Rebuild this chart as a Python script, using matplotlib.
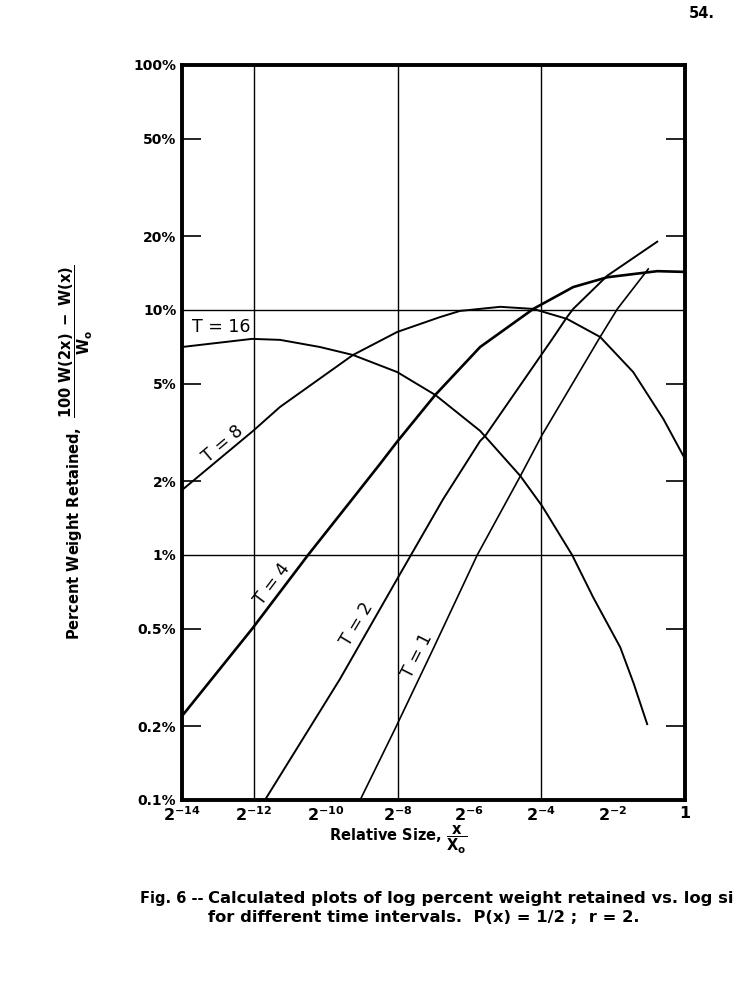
import matplotlib
matplotlib.use('Agg')
import matplotlib.pyplot as plt
import numpy as np

plt.rcParams['mathtext.default'] = 'bf'

# curves: exponent u of x/x0 = 2**u, and percent weight retained
t16_u = [-14.0, -12.05, -11.27, -10.16, -9.24, -8.01, -6.95, -5.70, -4.58, -3.97, -3.14, -2.55, -1.80, -1.43, -1.05]
t16_pct = [7.06, 7.62, 7.55, 7.06, 6.55, 5.58, 4.50, 3.21, 2.10, 1.58, 1.00, 0.67, 0.42, 0.30, 0.204]

t8_u = [-14.0, -12.02, -11.27, -9.24, -8.01, -6.81, -6.26, -5.14, -4.22, -3.28, -2.36, -1.44, -0.60, 0.0]
t8_pct = [1.84, 3.21, 4.02, 6.55, 8.13, 9.36, 9.91, 10.3, 10.1, 9.19, 7.76, 5.58, 3.59, 2.47]

t4_u = [-14.0, -12.05, -10.49, -9.26, -8.48, -8.01, -6.95, -5.70, -4.22, -3.11, -2.16, -0.77, 0.0]
t4_pct = [0.220, 0.499, 1.0, 1.69, 2.36, 2.90, 4.50, 7.06, 10.1, 12.4, 13.6, 14.4, 14.3]

t2_u = [-11.69, -9.60, -8.01, -6.73, -5.70, -5.56, -3.69, -3.28, -3.11, -2.16, -0.77]
t2_pct = [0.10, 0.312, 0.798, 1.69, 2.92, 3.06, 7.62, 9.36, 10.1, 13.8, 19.0]

t1_u = [-9.04, -8.07, -7.01, -5.78, -4.58, -3.97, -2.36, -1.88, -1.02]
t1_pct = [0.10, 0.195, 0.413, 1.0, 2.10, 3.10, 7.76, 10.1, 14.7]

xtick_exp = [-14, -12, -10, -8, -6, -4, -2, 0]
xtick_labels = ['$2^{-14}$', '$2^{-12}$', '$2^{-10}$', '$2^{-8}$', '$2^{-6}$', '$2^{-4}$', '$2^{-2}$', '1']
ytick_vals = [0.1, 1, 10, 100]
ytick_labels = ['0.1%', '1%', '10%', '100%']
yminor_vals = [0.2, 0.5, 2, 5, 20, 50]
yminor_labels = ['0.2%', '0.5%', '2%', '5%', '20%', '50%']

fig = plt.figure(figsize=(7.51, 9.84), dpi=100)
ax = fig.add_axes([0.2423, 0.187, 0.6697, 0.747])

ax.set_xscale('log', base=2)
ax.set_yscale('log')
ax.set_xlim(2.0**-14, 1)
ax.set_ylim(0.1, 100)

# grid lines at 2^-12, 2^-8, 2^-4 and 1%, 10%
for e in [-12, -8, -4]:
    ax.axvline(2.0**e, color='black', lw=1.0)
for v in [1, 10]:
    ax.axhline(v, color='black', lw=1.0)

ax.plot(2.0**np.array(t16_u), t16_pct, color='black', lw=1.4)
ax.plot(2.0**np.array(t8_u), t8_pct, color='black', lw=1.4)
ax.plot(2.0**np.array(t4_u), t4_pct, color='black', lw=1.9)
ax.plot(2.0**np.array(t2_u), t2_pct, color='black', lw=1.4)
ax.plot(2.0**np.array(t1_u), t1_pct, color='black', lw=1.2)

for s in ax.spines.values():
    s.set_linewidth(2.8)

ax.set_xticks([2.0**e for e in xtick_exp])
ax.set_xticklabels(xtick_labels, fontsize=11.5, fontweight='bold')
ax.set_xticks([2.0**-10, 2.0**-6, 2.0**-2], minor=True)
ax.set_xticklabels([], minor=True)
ax.set_yticks(ytick_vals)
ax.set_yticklabels(ytick_labels, fontsize=10, fontweight='bold')
ax.set_yticks(yminor_vals, minor=True)
ax.set_yticklabels(yminor_labels, minor=True, fontsize=10, fontweight='bold')
ax.tick_params(which='major', length=0, pad=4)
ax.tick_params(which='minor', direction='in', length=14, width=1.2,
               top=True, right=True, pad=4)

# curve labels
ax.text(2.0**-13.72, 8.5, 'T = 16', fontsize=12.5, ha='left', va='center')
ax.text(2.0**-12.86, 2.84, 'T = 8', fontsize=12.5, ha='center', va='center', rotation=40)
ax.text(2.0**-11.49, 0.762, 'T = 4', fontsize=12.5, ha='center', va='center', rotation=53)
ax.text(2.0**-9.13, 0.522, 'T = 2', fontsize=12.5, ha='center', va='center', rotation=59)
ax.text(2.0**-7.45, 0.387, 'T = 1', fontsize=12.5, ha='center', va='center', rotation=63)

fig.text(398 / 751, 1 - 840 / 984, r'Relative Size, $\dfrac{x}{X_o}$', fontsize=10.5,
         fontweight='bold', ha='center', va='center')
fig.text(76 / 751, 1 - 452 / 984,
         r'Percent Weight Retained,  $\dfrac{100\ W(2x)\ -\ W(x)}{W_o}$',
         fontsize=10.5, fontweight='bold', rotation=90, ha='center', va='center')

fig.text(702 / 751, 1 - 14 / 984, '54.', fontsize=10.5, fontweight='bold', ha='center', va='center')
fig.text(140 / 751, 1 - 898 / 984, 'Fig. 6 --', fontsize=10.5, fontweight='bold', va='center')
fig.text(208 / 751, 1 - 898 / 984, 'Calculated plots of log percent weight retained vs. log si',
         fontsize=11.8, fontweight='bold', va='center')
fig.text(208 / 751, 1 - 918 / 984, 'for different time intervals.  P(x) = 1/2 ;  r = 2.',
         fontsize=11.8, fontweight='bold', va='center')

fig.savefig('out.png', dpi=100)
